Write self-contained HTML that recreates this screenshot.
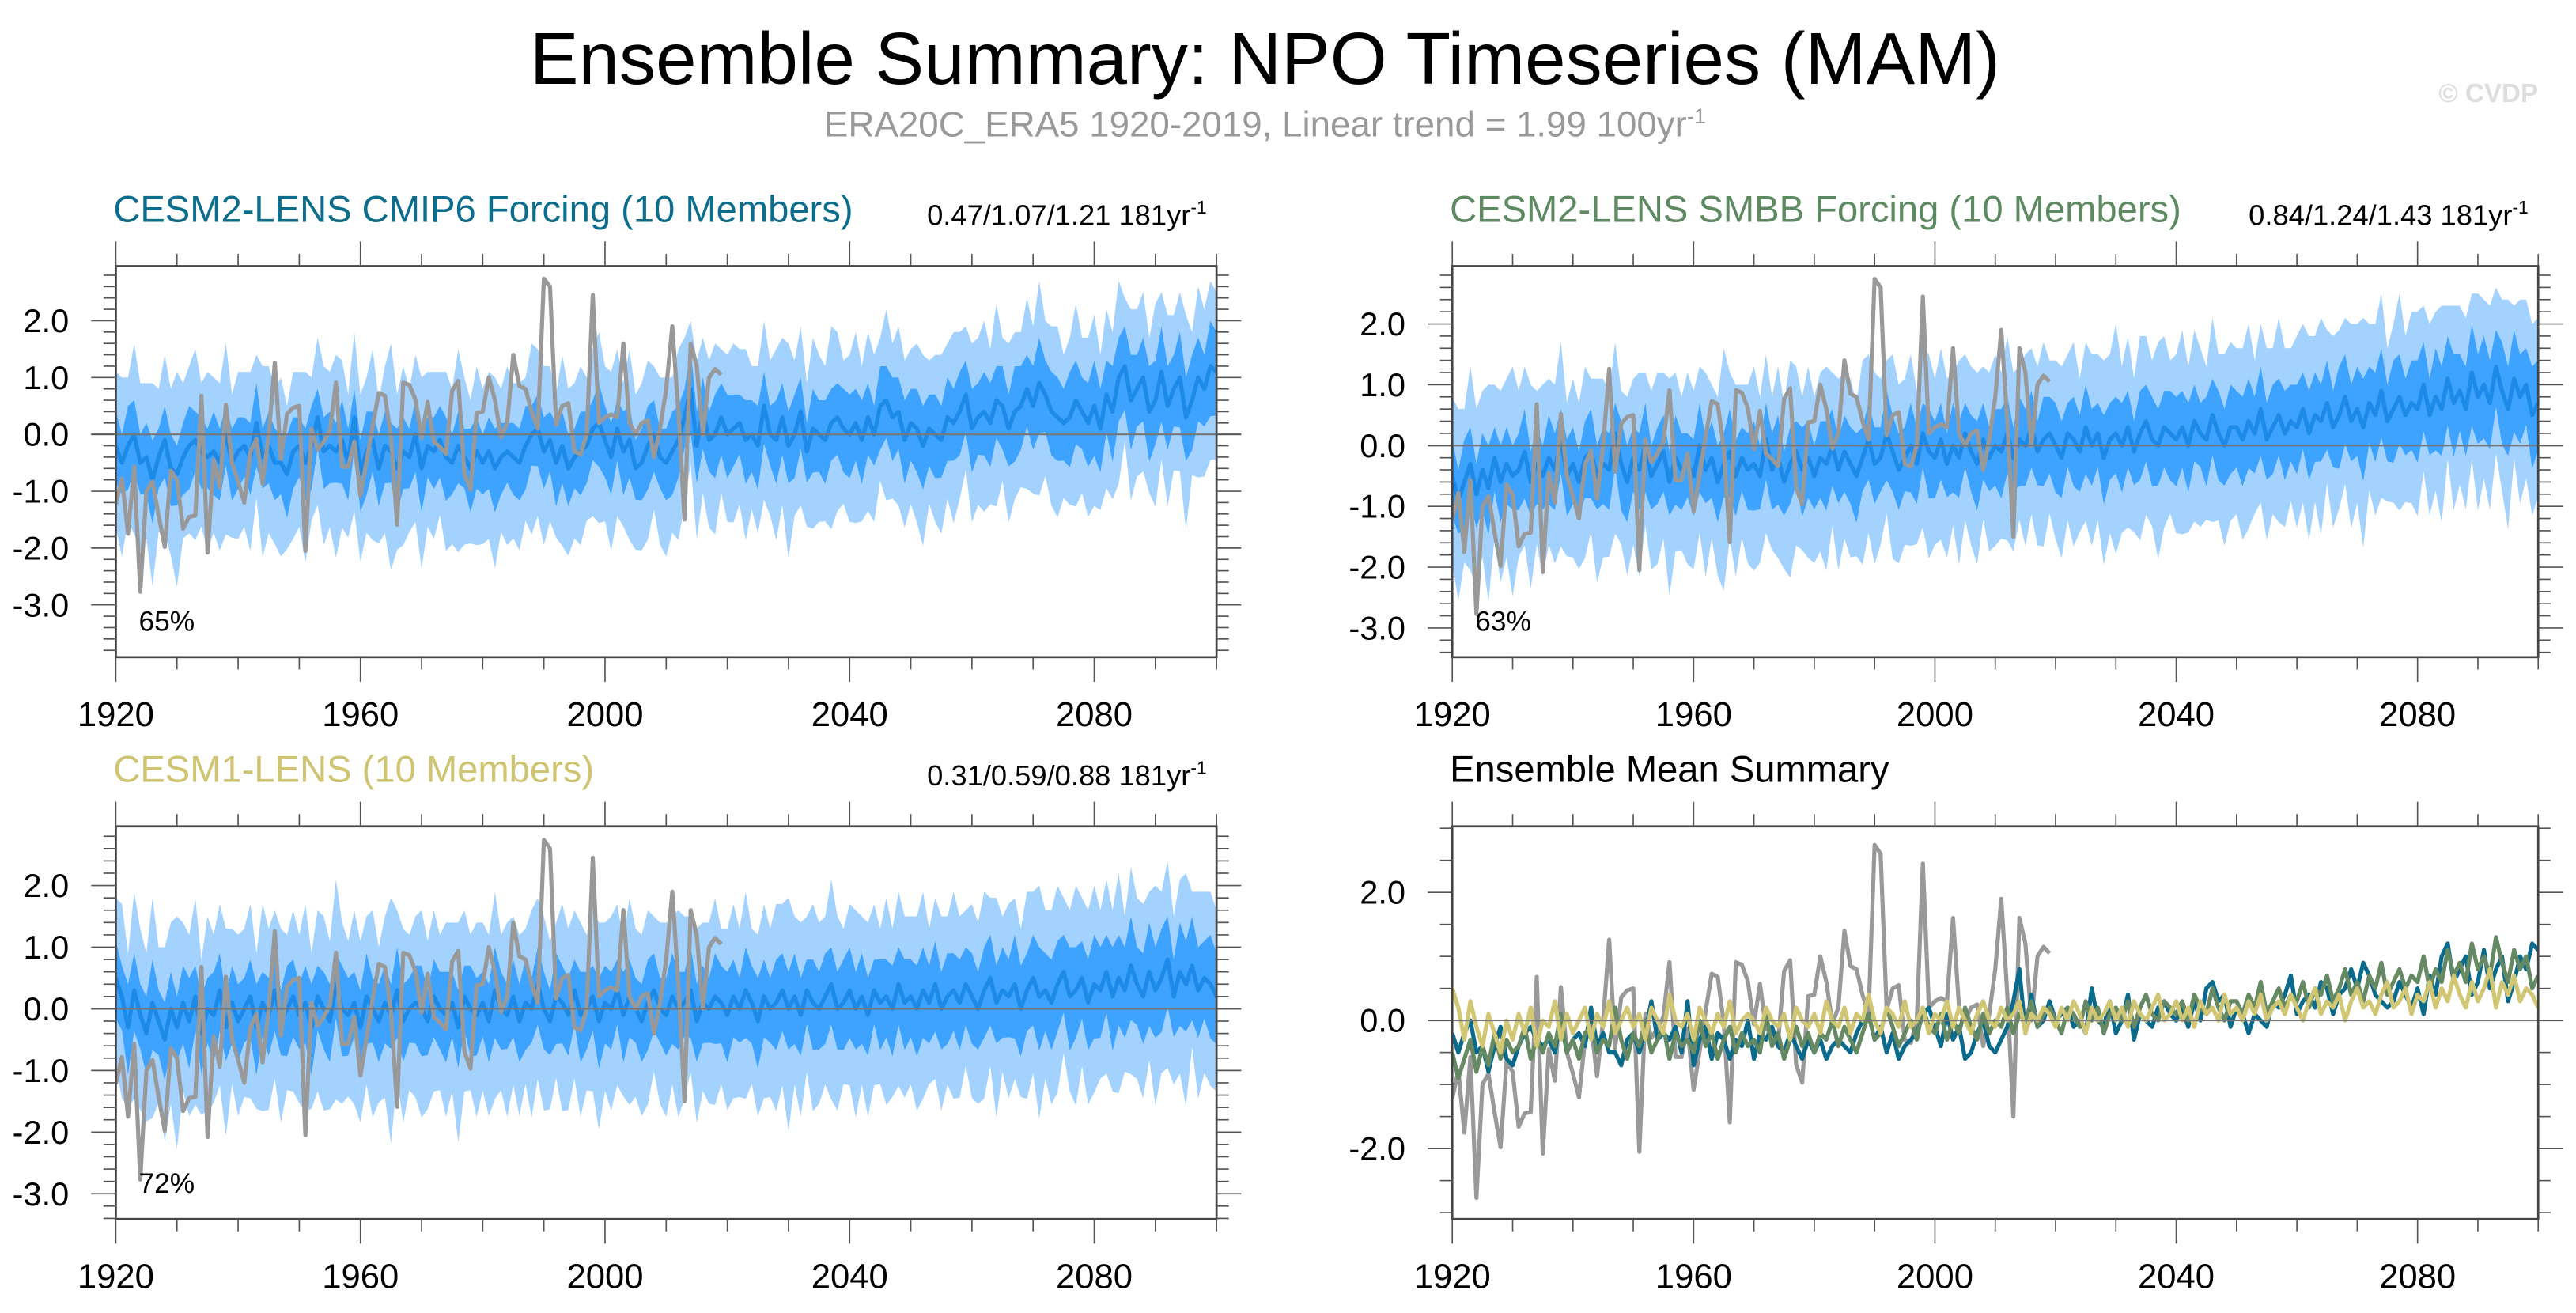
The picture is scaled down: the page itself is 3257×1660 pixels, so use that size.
<!DOCTYPE html>
<html><head><meta charset="utf-8"><style>
html,body{margin:0;padding:0;background:#fff;}
svg{display:block;font-family:"Liberation Sans",sans-serif;}
</style></head><body>
<svg id="chart" xmlns="http://www.w3.org/2000/svg" width="3257" height="1660" viewBox="0 0 1568 799.2" preserveAspectRatio="none">
<text x="770" y="51" font-size="44.5" text-anchor="middle" fill="#000">Ensemble Summary: NPO Timeseries (MAM)</text>
<text x="770" y="83" font-size="22" text-anchor="middle" fill="#999">ERA20C_ERA5 1920-2019, Linear trend = 1.99 100yr<tspan dy="-8" font-size="13">-1</tspan></text>
<text x="1545" y="62" font-size="16" font-weight="bold" text-anchor="end" fill="#ddd">© CVDP</text>
<g id="panels"></g>
</svg>
<script>
const years = [];
for (let y = 1920; y <= 2100; y++) years.push(y);
const obsYears = [];
for (let y = 1920; y <= 2019; y++) obsYears.push(y);

const obs = [-1.22,-0.78,-1.75,-0.57,-2.77,-1.0,-0.83,-1.43,-1.98,-0.64,
-0.8,-1.66,-1.45,-1.43,0.68,-2.08,-0.45,-0.94,0.52,-0.5,
-0.83,-1.2,-0.31,-0.08,-0.87,0.0,1.26,-0.43,0.36,0.47,
0.5,-2.05,0.1,-0.27,-0.13,0.06,0.91,-0.57,-0.57,-0.13,
-1.08,-0.48,0.15,0.73,0.68,-0.04,-1.59,0.91,0.87,0.61,
-0.06,0.57,-0.13,-0.22,-0.34,0.77,0.94,-0.69,-0.97,0.38,
0.4,1.0,0.6,-0.05,0.2,1.4,0.85,0.8,0.4,0.1,
2.74,2.6,0.17,0.5,0.55,-0.3,-0.35,0.0,2.45,0.2,
0.3,0.35,0.3,1.6,0.2,0.0,0.2,0.25,-0.4,0.1,
0.8,1.9,0.4,-1.5,1.6,1.2,0.0,1.0,1.15,1.05];

const meanCMIP6 = [-0.2,-0.5,-0.2,0.0,-0.5,-0.4,-0.8,-0.4,-0.1,-0.6,
-0.7,-0.4,-0.2,-0.1,-0.3,-0.4,-0.3,-0.5,0.0,-0.5,
-0.3,-0.2,-0.4,0.2,-0.4,-0.2,-0.5,-0.5,-0.7,-0.3,
-0.2,-0.5,-0.2,0.3,-0.3,-0.2,-0.3,-0.1,-0.5,0.3,
-0.7,-0.3,-0.1,-0.6,-0.2,-0.3,-0.6,-0.3,-0.4,0.0,
-0.6,-0.2,-0.3,-0.1,-0.4,-0.5,-0.2,-0.4,-0.6,-0.3,
-0.5,-0.3,-0.6,-0.4,-0.3,-0.4,-0.5,-0.2,0.0,0.1,
-0.3,-0.1,-0.5,-0.2,-0.6,-0.4,-0.3,-0.2,0.1,0.2,
-0.1,-0.4,0.1,-0.3,-0.1,-0.6,-0.5,-0.2,0.0,-0.4,
-0.5,-0.3,-0.1,0.3,0.8,-0.2,0.4,-0.1,0.0,0.3,
0.0,0.1,0.2,-0.1,0.0,-0.2,0.5,0.0,-0.1,0.3,
-0.2,0.0,0.4,-0.3,0.1,0.0,-0.1,0.2,0.3,0.1,
0.0,0.2,-0.1,0.3,0.0,0.5,0.6,0.3,0.4,-0.1,
0.2,0.1,-0.2,0.1,0.0,-0.1,0.3,0.2,0.4,0.7,
0.1,0.3,0.4,0.2,0.6,0.5,0.1,0.4,0.5,0.8,
0.5,0.9,0.7,0.4,0.3,0.2,0.3,0.6,0.4,0.2,
0.5,0.1,0.7,0.4,1.0,1.2,0.6,0.8,1.0,0.4,
0.6,1.1,0.5,0.8,1.0,0.3,0.6,1.0,0.8,1.2,
1.1];

const meanSMBB = [-0.5,-0.9,-0.6,-0.3,-0.8,-0.4,-0.7,-0.2,-0.6,-0.3,
-0.5,-0.4,-0.1,-0.6,-0.3,-0.5,-0.2,-0.4,0.1,-0.5,
-0.3,-0.6,-0.2,-0.1,-0.5,-0.3,-0.4,0.2,-0.3,-0.6,
-0.2,-0.4,0.0,-0.5,-0.3,-0.1,-0.6,-0.2,-0.4,-0.3,
-0.5,0.0,-0.4,-0.2,-0.6,-0.3,-0.1,-0.5,-0.2,-0.4,
-0.3,-0.5,0.1,-0.4,-0.2,-0.6,-0.3,-0.1,-0.4,-0.2,
-0.5,-0.2,-0.3,0.0,-0.4,-0.1,-0.3,-0.5,-0.2,0.1,
-0.3,-0.2,0.2,-0.1,-0.4,-0.2,0.0,-0.3,0.2,-0.1,
-0.2,0.1,-0.3,0.0,-0.2,0.2,-0.1,-0.3,0.1,-0.2,
0.0,-0.1,0.2,-0.2,0.1,0.0,0.3,-0.1,0.1,0.2,
0.0,-0.2,0.2,0.1,-0.1,0.3,0.0,0.2,-0.2,0.1,
0.2,0.0,0.3,-0.1,0.2,0.4,0.1,0.0,0.3,0.2,
0.1,0.3,0.0,0.4,0.2,0.1,0.5,0.2,0.0,0.3,
0.3,0.1,0.4,0.2,0.6,0.1,0.3,0.5,0.2,0.4,
0.3,0.6,0.2,0.5,0.4,0.7,0.3,0.5,0.8,0.4,
0.6,0.3,0.7,0.5,0.9,0.4,0.6,0.8,0.5,0.7,
0.6,1.0,0.5,0.8,0.6,1.1,0.7,0.9,0.6,1.2,
0.8,1.0,0.7,1.3,0.9,0.6,1.1,0.8,1.0,0.5,
0.7];

const meanCESM1 = [0.5,0.2,-0.3,0.3,-0.1,-0.4,0.1,-0.2,-0.5,0.0,
-0.3,0.1,-0.2,0.2,-0.4,0.0,-0.1,0.3,-0.3,0.1,
-0.2,0.0,0.2,-0.3,0.1,-0.1,0.3,-0.2,0.0,0.2,
-0.1,0.1,-0.3,0.2,0.0,-0.2,0.4,0.0,-0.1,0.1,
-0.3,0.2,0.0,-0.2,0.1,-0.1,0.3,-0.2,0.0,0.1,
0.0,-0.2,0.2,0.0,-0.1,0.1,-0.3,0.2,0.0,-0.1,
0.1,-0.2,0.3,0.0,-0.1,0.2,-0.2,0.1,0.0,0.4,
0.0,-0.2,0.2,0.1,-0.1,0.3,-0.1,0.0,0.2,-0.2,
0.1,0.0,0.3,-0.1,0.2,0.0,-0.2,0.1,0.3,0.0,
-0.1,0.2,0.0,0.1,0.3,-0.2,0.1,0.0,0.2,0.1,
-0.1,0.2,0.0,0.3,0.1,-0.2,0.2,0.0,0.1,0.3,
0.0,0.2,-0.1,0.3,0.1,0.0,0.2,0.4,0.0,0.1,
0.3,0.0,0.2,-0.1,0.3,0.1,0.2,0.0,0.4,0.1,
0.2,0.0,0.3,0.1,0.4,0.0,0.2,0.3,0.1,0.4,
0.2,0.0,0.3,0.5,0.1,0.3,0.2,0.4,0.0,0.3,
0.5,0.2,0.3,0.1,0.4,0.6,0.2,0.3,0.5,0.1,
0.4,0.3,0.6,0.2,0.5,0.3,0.7,0.4,0.2,0.6,
0.3,0.5,0.8,0.2,0.6,0.4,0.7,0.3,0.5,0.4,
0.2];

const spreadInner = [.6,.5,.7,.6,.5,.6,.7,.5,.6,.6,
.5,.6,.7,.5,.6,.5,.7,.6,.5,.6,
.6,.5,.6,.7,.5,.6,.6,.5,.7,.6,
.5,.6,.7,.5,.6,.6,.5,.7,.6,.5,
.6,.7,.5,.6,.6,.5,.7,.6,.5,.6,
.7,.5,.6,.6,.7,.5,.6,.5,.7,.6,
.5,.6,.7,.6,.5,.6,.6,.7,.5,.6,
.6,.5,.7,.6,.6,.5,.7,.6,.5,.7,
.6,.6,.5,.7,.6,.5,.6,.7,.6,.5,
.6,.7,.6,.5,.7,.6,.6,.5,.7,.6,
.7,.6,.5,.7,.6,.7,.6,.5,.7,.6,
.6,.7,.6,.5,.7,.6,.7,.6,.6,.7,
.7,.6,.7,.6,.5,.7,.6,.7,.6,.7,
.6,.7,.7,.6,.7,.6,.7,.6,.7,.6,
.7,.6,.7,.7,.6,.7,.6,.8,.7,.6,
.7,.8,.6,.7,.7,.6,.8,.7,.6,.7,
.8,.7,.6,.8,.7,.7,.8,.6,.7,.8,
.7,.8,.7,.6,.8,.7,.8,.7,.6,.8,
.7];

const spreadOuter = [1.3,1.5,1.2,1.6,1.4,1.3,1.7,1.2,1.5,1.4,
1.8,1.3,1.4,1.6,1.2,1.5,1.3,1.4,1.6,1.2,
1.4,1.3,1.5,1.2,1.6,1.4,1.3,1.5,1.2,1.4,
1.3,1.6,1.2,1.4,1.5,1.3,1.7,1.4,1.2,1.5,
1.4,1.3,1.6,1.2,1.4,1.9,1.3,1.5,1.2,1.4,
1.6,1.3,1.4,1.2,1.5,1.3,1.7,1.4,1.2,1.5,
1.3,1.4,1.6,1.2,1.5,1.3,1.4,1.2,1.6,1.4,
1.5,1.3,1.2,1.6,1.4,1.3,1.5,1.2,1.4,1.6,
1.3,1.5,1.4,1.2,1.6,1.3,1.4,1.5,1.2,1.4,
1.5,1.3,1.6,1.4,1.2,1.5,1.3,1.4,1.6,1.2,
1.4,1.5,1.3,1.6,1.2,1.4,1.5,1.3,1.6,1.4,
1.8,1.3,1.5,1.2,1.6,1.4,1.3,1.7,1.5,1.2,
1.4,1.6,1.3,1.5,1.4,1.2,1.6,1.3,1.5,1.4,
1.3,1.5,1.6,1.2,1.4,1.5,1.3,1.6,1.4,1.2,
1.5,1.4,1.6,1.3,1.7,1.2,1.5,1.4,1.3,1.6,
1.4,1.8,1.3,1.5,1.6,1.2,1.4,1.7,1.3,1.5,
1.6,1.3,1.5,1.4,1.7,1.2,1.6,1.4,1.5,1.3,
1.7,1.4,1.6,1.3,1.5,1.8,1.2,1.6,1.4,1.5,
1.4];

const xTickLabels = ["1920","1960","2000","2040","2080"];
const xTickYears = [1920,1960,2000,2040,2080];

const NS = "http://www.w3.org/2000/svg";
const root = document.getElementById("panels");
function mk(tag, attrs, parent) {
  const e = document.createElementNS(NS, tag);
  for (const k in attrs) e.setAttribute(k, attrs[k]);
  (parent || root).appendChild(e);
  return e;
}

function drawPanel(p) {
  const g = mk("g", {});
  
  
  const sx = y => p.x0 + (y - 1920) / 180 * (p.x1 - p.x0);
  const sy = v => p.y1 - (v - p.ymin) / (p.ymax - p.ymin) * (p.y1 - p.y0);
  const clipId = "clip-" + p.name;
  const cp = mk("clipPath", {id: clipId}, g);
  mk("rect", {x: p.x0, y: p.y0, width: p.x1 - p.x0, height: p.y1 - p.y0}, cp);
  const inner = mk("g", {"clip-path": "url(#" + clipId + ")"}, g);

  if (p.mean) {
    [[spreadOuter, "#a3d2ff", "outer-spread-band"], [spreadInner, "#3ea2ff", "inner-spread-band"]].forEach(([sp, col, nm]) => {
      let pts = years.map((y, i) => sx(y).toFixed(2) + "," + sy(p.mean[i] + sp[i]).toFixed(2));
      for (let i = years.length - 1; i >= 0; i--) pts.push(sx(years[i]).toFixed(2) + "," + sy(p.mean[i] - sp[i] * 1.1).toFixed(2));
      const poly = mk("polygon", {points: pts.join(" "), fill: col}, inner);
      
      
    });
  }
  const zl = mk("line", {x1: p.x0 - 15, x2: p.x1 + 15, y1: sy(0), y2: sy(0), stroke: "#777", "stroke-width": 1}, g);
  
  

  p.lines.forEach(L => {
    const pts = L.xs.map((y, i) => sx(y).toFixed(2) + "," + sy(L.vals[i]).toFixed(2)).join(" ");
    const pl = mk("polyline", {points: pts, fill: "none", stroke: L.color, "stroke-width": L.w || 2.5, "stroke-linejoin": "round"}, inner);
    
    
  });

  const fr = mk("rect", {x: p.x0, y: p.y0, width: p.x1 - p.x0, height: p.y1 - p.y0, fill: "none", stroke: "#444", "stroke-width": 1.3}, g);
  
  

  for (let y = 1920; y <= 2100; y += 10) {
    const major = (y - 1920) % 40 === 0 && y < 2100;
    const len = major ? 15 : 7.5;
    const x = sx(y);
    mk("line", {x1: x, x2: x, y1: p.y0, y2: p.y0 - len, stroke: "#555", "stroke-width": 0.8}, g);
    mk("line", {x1: x, x2: x, y1: p.y1, y2: p.y1 + len, stroke: "#555", "stroke-width": 0.8}, g);
  }
  xTickYears.forEach((y, i) => {
    const t = mk("text", {x: sx(y), y: p.y1 + 42, "font-size": 21, "text-anchor": "middle", fill: "#000"}, g);
    t.textContent = xTickLabels[i];
    
    
  });
  for (let k = Math.ceil(p.ymin / p.minor); k * p.minor <= p.ymax; k++) {
    const v = k * p.minor;
    const major = p.majors.some(m => Math.abs(m - v) < 1e-6);
    const len = major ? 15 : 7.5;
    const y = sy(v);
    mk("line", {x1: p.x0, x2: p.x0 - len, y1: y, y2: y, stroke: "#555", "stroke-width": 0.8}, g);
    mk("line", {x1: p.x1, x2: p.x1 + len, y1: y, y2: y, stroke: "#555", "stroke-width": 0.8}, g);
  }
  p.majors.forEach(m => {
    const t = mk("text", {x: p.x0 - 28.5, y: sy(m) + 7, "font-size": 20, "text-anchor": "end", fill: "#000"}, g);
    t.textContent = m.toFixed(1);
    
    
  });
  const tt = mk("text", {x: p.x0 - 1.5, y: p.y0 - 27, "font-size": 22.7, fill: p.titleColor}, g);
  tt.textContent = p.title;
  
  
  if (p.trend) {
    const tr = mk("text", {x: p.x1 - 6, y: p.y0 - 25, "font-size": 17.5, "text-anchor": "end", fill: "#000"}, g);
    tr.textContent = p.trend;
    const sup = mk("tspan", {dy: -7, "font-size": 11}, tr);
    sup.textContent = "-1";
    
    
  }
  if (p.pct) {
    const pc = mk("text", {x: p.x0 + 14, y: p.y1 - 16, "font-size": 17, fill: "#000"}, g);
    pc.textContent = p.pct;
    
    
  }
}

const obsLine = {xs: obsYears, vals: obs, color: "#999", name: "observed-line", w: 2.5};
drawPanel({name: "panel-cesm2-cmip6", x0: 70.5, x1: 740.5, y0: 162, y1: 400, ymin: -3.92, ymax: 2.96, majors: [-3,-2,-1,0,1,2], minor: 0.2,
  mean: meanCMIP6, title: "CESM2-LENS CMIP6 Forcing (10 Members)", titleColor: "#0c6e8c", trend: "0.47/1.07/1.21 181yr", pct: "65%",
  lines: [{xs: years, vals: meanCMIP6, color: "#1e8ae8", name: "ensemble-mean-line"}, obsLine]});
drawPanel({name: "panel-cesm2-smbb", x0: 884, x1: 1545, y0: 162, y1: 400, ymin: -3.48, ymax: 2.95, majors: [-3,-2,-1,0,1,2], minor: 0.2,
  mean: meanSMBB, title: "CESM2-LENS SMBB Forcing (10 Members)", titleColor: "#5e8a62", trend: "0.84/1.24/1.43 181yr", pct: "63%",
  lines: [{xs: years, vals: meanSMBB, color: "#1e8ae8", name: "ensemble-mean-line"}, obsLine]});
drawPanel({name: "panel-cesm1-lens", x0: 70.5, x1: 740.5, y0: 503, y1: 742, ymin: -3.41, ymax: 2.96, majors: [-3,-2,-1,0,1,2], minor: 0.2,
  mean: meanCESM1, title: "CESM1-LENS (10 Members)", titleColor: "#cfc472", trend: "0.31/0.59/0.88 181yr", pct: "72%",
  lines: [{xs: years, vals: meanCESM1, color: "#1e8ae8", name: "ensemble-mean-line"}, obsLine]});
drawPanel({name: "panel-ensemble-mean-summary", x0: 884, x1: 1545, y0: 503, y1: 742, ymin: -3.1, ymax: 3.03, majors: [-2,0,2], minor: 0.5,
  mean: null, title: "Ensemble Mean Summary", titleColor: "#000", trend: null, pct: null,
  lines: [obsLine,
    {xs: years, vals: meanCMIP6, color: "#0a6a8c", name: "cesm2-cmip6-mean-line"},
    {xs: years, vals: meanSMBB, color: "#658a63", name: "cesm2-smbb-mean-line"},
    {xs: years, vals: meanCESM1, color: "#d1c674", name: "cesm1-mean-line"}]});
</script>
</body></html>
